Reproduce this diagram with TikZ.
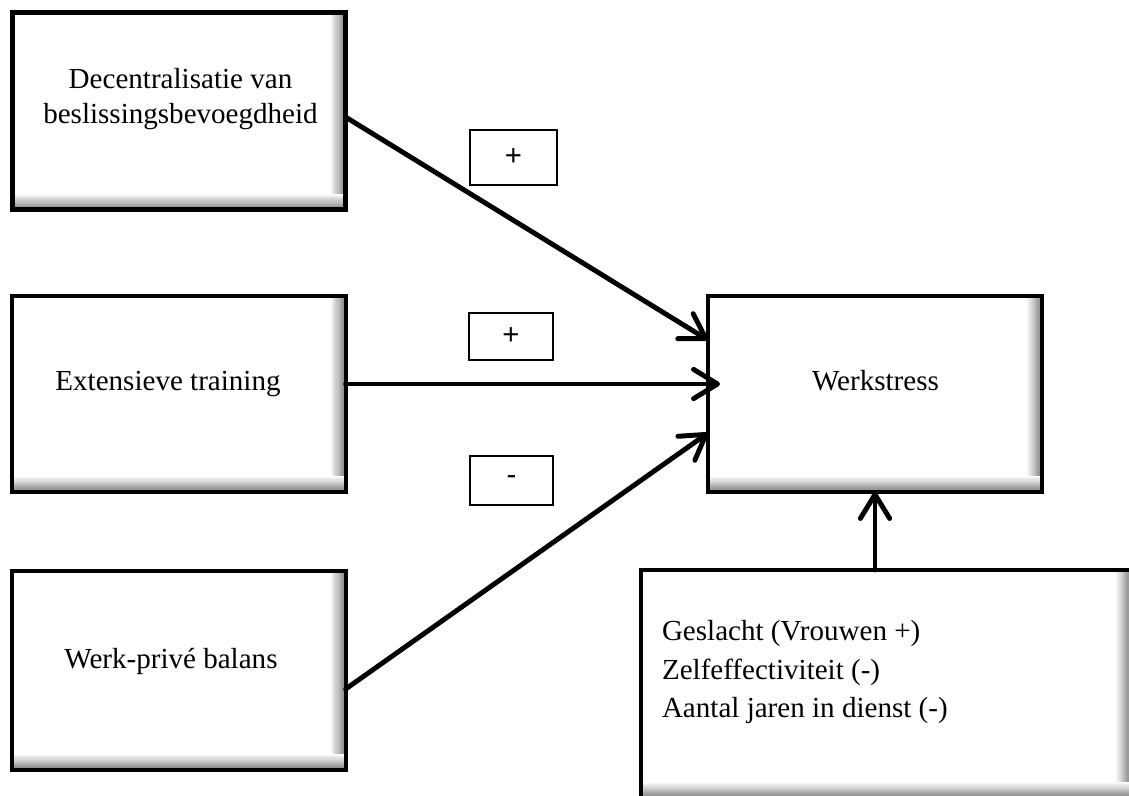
\documentclass[tikz,border=0pt]{standalone}
\usepackage{fontspec}
\setmainfont{Liberation Serif}
\newfontfamily\plusfont{Liberation Sans}
\usetikzlibrary{arrows.meta}
\tikzset{
  shadowbox/.style={draw, line width=3.2pt, inner sep=0pt, outer sep=0pt, fill=white,
    path picture={
      \foreach \i [evaluate=\i as \c using 3.6*\i] in {0,...,13} {
        \fill[black!\c] ([xshift={\i*0.85pt-12pt}]path picture bounding box.north east)
          rectangle ([xshift={\i*0.85pt-11pt}]path picture bounding box.south east);
      }
      \foreach \i [evaluate=\i as \c using 3.6*\i] in {0,...,13} {
        \fill[black!\c] ([yshift={12pt-\i*0.85pt}]path picture bounding box.south west)
          rectangle ([yshift={11pt-\i*0.85pt}]path picture bounding box.south east);
      }
    }},
  signbox/.style={draw, line width=0.8pt, inner sep=0pt, outer sep=0pt, font=\plusfont\fontsize{22}{26}\selectfont},
  lbl/.style={inner sep=0pt, outer sep=0pt, font=\fontsize{21.8}{26.25}\selectfont},
  conn/.style={line width=3.7pt, line cap=round, -{Straight Barb[length=18pt,width=22pt,line cap=round, line join=round]}},
}
\begin{document}
\begin{tikzpicture}[x=0.75pt, y=-0.75pt]
\useasboundingbox (0,0) rectangle (1129,796);
\begin{scope}
\clip (0,0) rectangle (1129,796);
% boxes
\node[shadowbox, minimum width=249.75pt, minimum height=147.75pt] (A) at (179,111) {};
\node[shadowbox, minimum width=250pt, minimum height=147pt] (B) at (179,394) {};
\node[shadowbox, minimum width=250pt, minimum height=149pt] (C) at (179,670.5) {};
\node[shadowbox, minimum width=250.5pt, minimum height=147pt] (W) at (875,394) {};
\node[shadowbox, minimum width=367.5pt, minimum height=171pt] (D) at (886,684) {};
% texts
\node[lbl, align=center] (At) at (180.5,98.8) {Decentralisatie van\\beslissingsbevoegdheid};
\node[lbl, anchor=base] (Bt) at (168,390) {Extensieve training};
\node[lbl, anchor=base] (Ct) at (171,668) {Werk-privé balans};
\node[lbl, anchor=base] (Wt) at (875.5,390) {Werkstress};
\node[lbl, align=left, anchor=north west, font=\fontsize{21.8}{28.9}\selectfont] (Dt) at (662,620.3)
  {Geslacht (Vrouwen +)\\Zelfeffectiviteit (-)\\Aantal jaren in dienst (-)};
% sign boxes
\node[signbox, minimum width=65.25pt, minimum height=41.25pt] (P1) at (513.5,157.5) {+};
\node[signbox, minimum width=63pt, minimum height=35.25pt] (P2) at (511,336.5) {+};
\node[signbox, minimum width=62.25pt, minimum height=36.75pt] (P3) at (511.5,480.5) {-};
% connectors
\draw[conn] (A.east |- 0,117) -- (W.west |- 0,340);
\draw[conn] (B.east |- 0,384) -- (720,384);
\draw[conn] (C.east |- 0,689) -- (W.west |- 0,433);
\draw[conn] (D.north -| W.south) -- (W.south);
\end{scope}
\end{tikzpicture}
\end{document}
